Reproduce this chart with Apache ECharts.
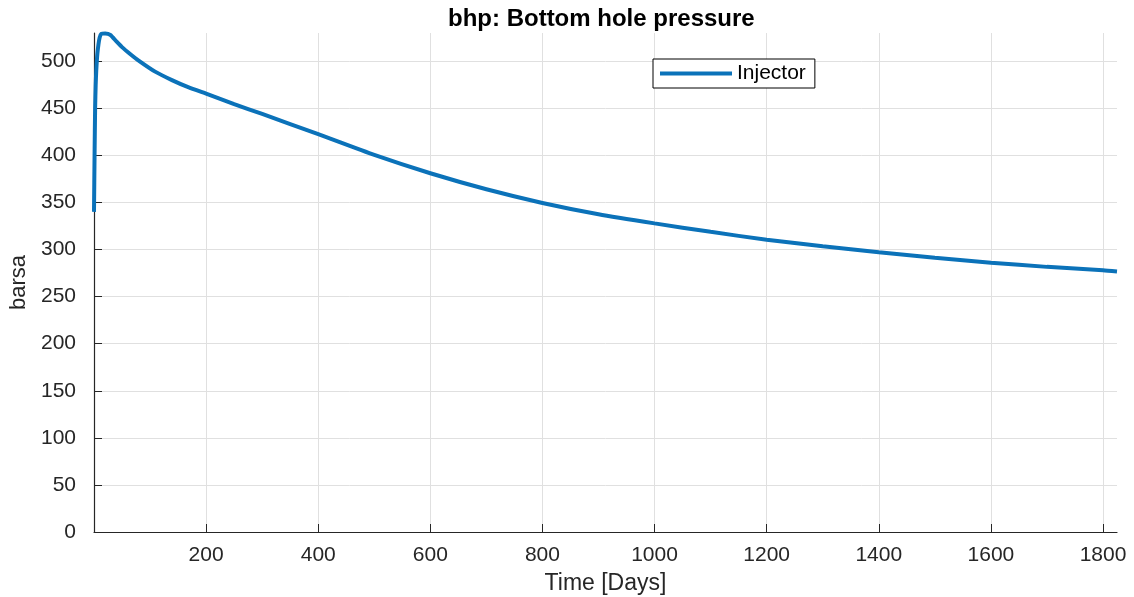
<!DOCTYPE html>
<html>
<head>
<meta charset="utf-8">
<script src="https://cdn.jsdelivr.net/npm/echarts@6/dist/echarts.min.js"></script>
<style>
html, body { margin: 0; padding: 0; background: #fff; }
#chart_bhp { width: 1134px; height: 597px; }
</style>
</head>
<body>
<div id="chart_bhp"></div>
<script>
// time steps (days)
var days = [0, 1, 2, 3, 4, 5, 6, 8, 10, 13, 20, 29, 40, 50, 65, 79, 109, 139, 168, 200,
    250, 300, 400, 500, 600, 700, 800, 900, 1000, 1100, 1200, 1300, 1400, 1500, 1600, 1700, 1800, 1825];
// bottom hole pressure of the injector (barsa)
var injector = [340, 400, 450, 475, 490, 500, 508, 518, 525, 529, 529.5, 528, 521, 515, 507.5, 501, 489, 480, 472.5, 465.5,
    454.5, 444, 422.5, 400.5, 381, 364, 349.5, 337.5, 327.8, 318.8, 310.4, 303.5, 297.2, 291.3, 286.1, 281.6, 278.1, 276.8];
var yTicks = [0, 50, 100, 150, 200, 250, 300, 350, 400, 450, 500];
var xTicks = [0, 200, 400, 600, 800, 1000, 1200, 1400, 1600, 1800];
var xLabels = [200, 400, 600, 800, 1000, 1200, 1400, 1600, 1800];

var pairs = [];
for (var i = 0; i < days.length; i++) {
    pairs.push([days[i], injector[i]]);
}

var font = '"Liberation Sans", Arial, Helvetica, sans-serif';
var ink = '#262626';
var gridGrey = '#e0e0e0';

// one colour per split line; an extra line at the axis max (if drawn) stays invisible
function splitColors(n) {
    var c = [];
    for (var k = 0; k < n; k++) c.push(gridGrey);
    c.push('rgba(0,0,0,0)');
    return c;
}

function plain(v) { return String(v); }

var chart = echarts.init(document.getElementById('chart_bhp'));
chart.setOption({
    animation: false,
    backgroundColor: '#fff',
    title: {
        text: 'bhp: Bottom hole pressure',
        left: 448,
        top: 7,
        padding: 0,
        textStyle: { fontFamily: font, fontSize: 24, fontWeight: 'bold', color: '#000' }
    },
    legend: {
        data: ['Injector'],
        left: 653,
        top: 59,
        orient: 'vertical',
        icon: 'rect',
        itemWidth: 72,
        itemHeight: 4,
        padding: [4, 9, 4, 7],
        borderColor: '#000',
        borderWidth: 1,
        backgroundColor: '#fff',
        textStyle: { fontFamily: font, fontSize: 21, color: '#000', lineHeight: 19 }
    },
    grid: { left: 94, right: 17, top: 33, bottom: 65, containLabel: false, outerBoundsMode: 'none' },
    xAxis: {
        type: 'value',
        min: 0,
        max: 1825,
        interval: 200,
        name: 'Time [Days]',
        nameLocation: 'middle',
        nameGap: 40,
        nameTextStyle: { fontFamily: font, fontSize: 23, color: ink },
        axisLine: { show: true, lineStyle: { color: ink, width: 1.2 } },
        axisTick: { show: true, inside: true, length: 8, customValues: xTicks, lineStyle: { color: ink } },
        axisLabel: {
            fontFamily: font, fontSize: 21, color: ink, margin: 13,
            customValues: xLabels, formatter: plain
        },
        splitLine: { show: true, lineStyle: { color: splitColors(10), width: 1 } }
    },
    yAxis: {
        type: 'value',
        min: 0,
        max: 530,
        interval: 50,
        name: 'barsa',
        nameLocation: 'middle',
        nameGap: 63,
        nameTextStyle: { fontFamily: font, fontSize: 22, color: ink },
        axisLine: { show: true, lineStyle: { color: ink, width: 1.2 } },
        axisTick: { show: true, inside: true, length: 8, customValues: yTicks, lineStyle: { color: ink } },
        axisLabel: {
            fontFamily: font, fontSize: 21, color: ink, margin: 18,
            customValues: yTicks, formatter: plain
        },
        splitLine: { show: true, lineStyle: { color: splitColors(11), width: 1 } }
    },
    series: [{
        name: 'Injector',
        type: 'line',
        data: pairs,
        showSymbol: false,
        smooth: 0.2,
        color: '#0b72b9',
        lineStyle: { width: 4, color: '#0b72b9' }
    }]
});
</script>
</body>
</html>
